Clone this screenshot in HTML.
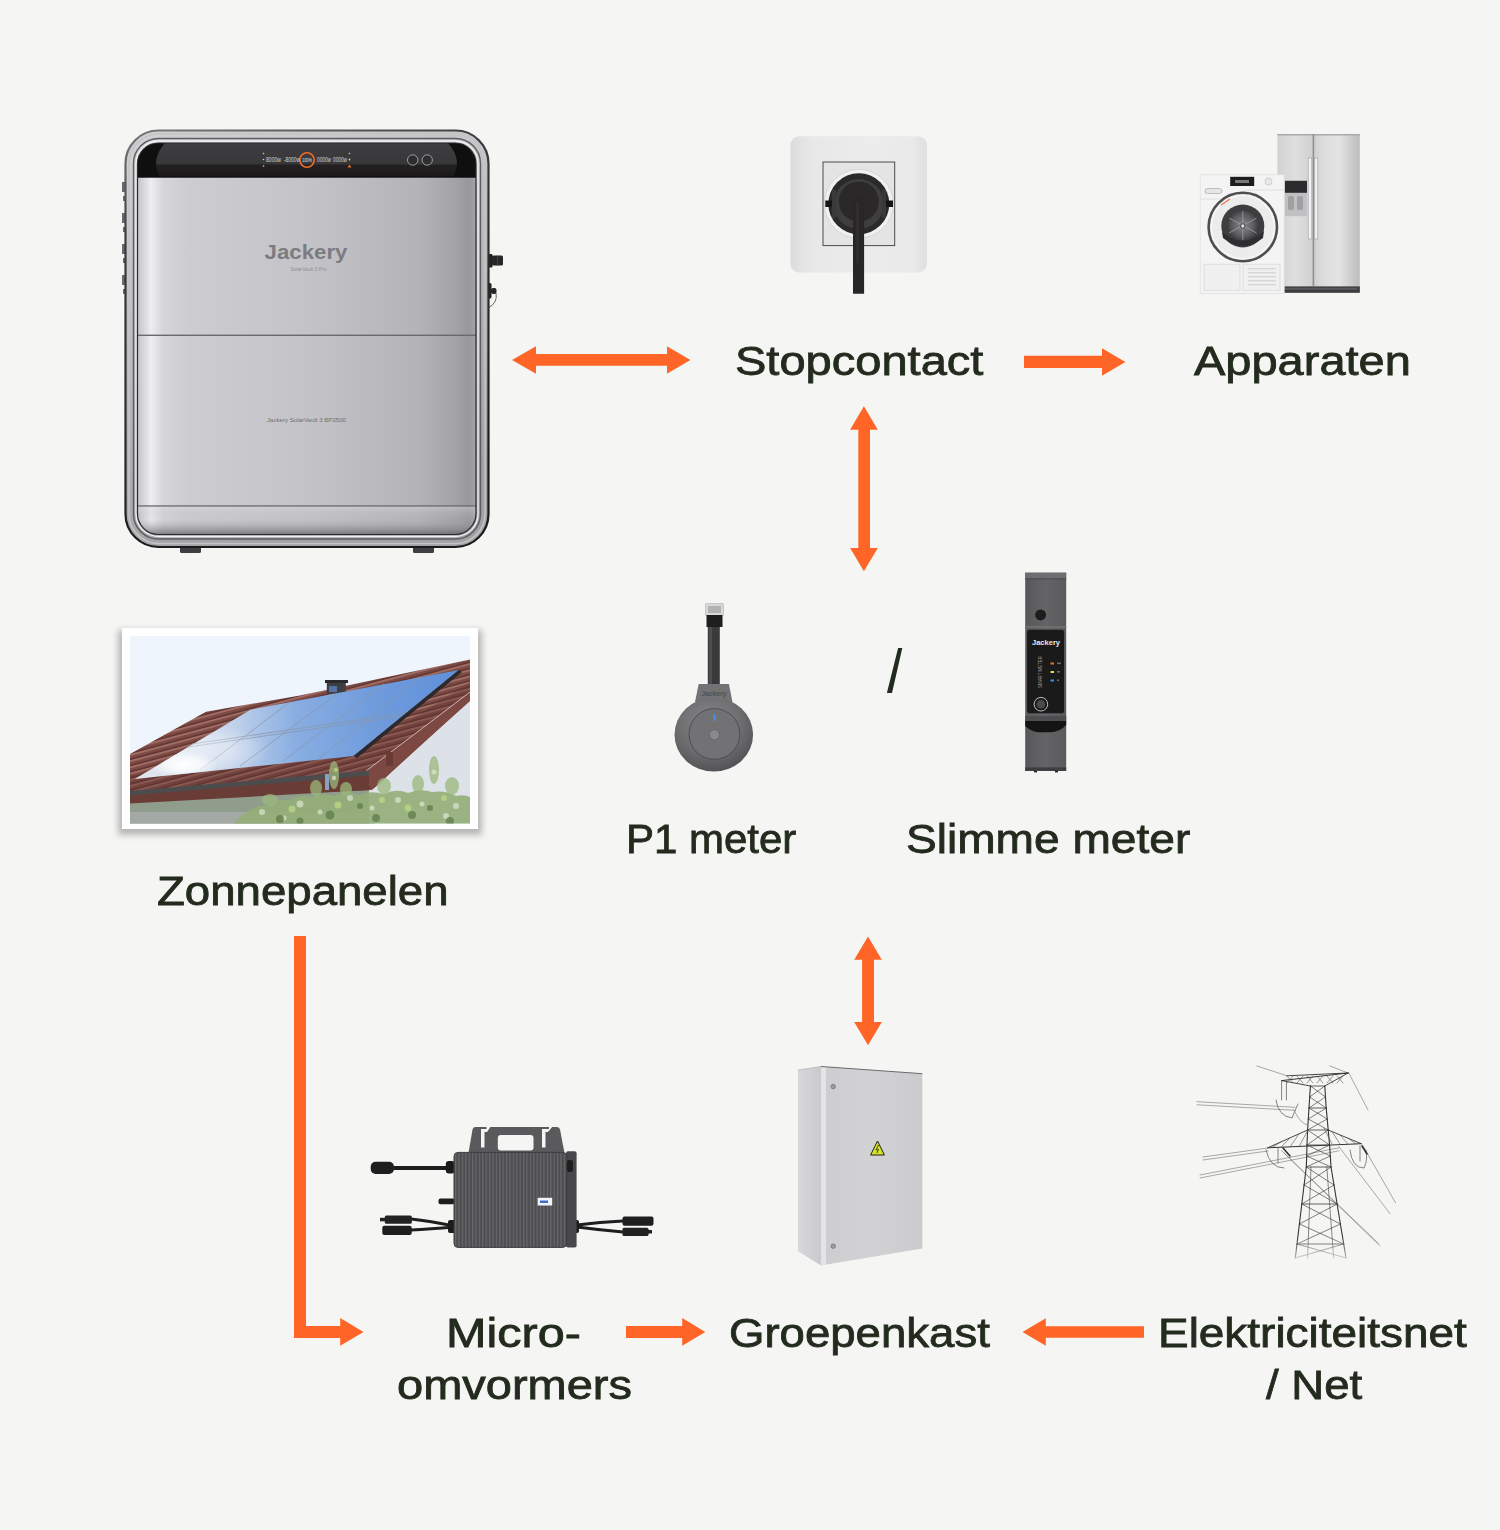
<!DOCTYPE html>
<html>
<head>
<meta charset="utf-8">
<style>
html,body{margin:0;padding:0;background:#f5f5f3;}
body{width:1500px;height:1530px;background:#f5f5f3;position:relative;overflow:hidden;font-family:"Liberation Sans",sans-serif;}
.t{position:absolute;white-space:nowrap;font-size:41px;line-height:50px;color:#232b1e;-webkit-text-stroke:0.8px #232b1e;transform-origin:0 0;}
svg{position:absolute;left:0;top:0;}
</style>
</head>
<body>
<svg width="1500" height="1530" viewBox="0 0 1500 1530">

<defs>
  <linearGradient id="bpH" gradientUnits="userSpaceOnUse" x1="137.5" x2="476" y1="0" y2="0">
    <stop offset="0" stop-color="#c4c4c8"/>
    <stop offset="0.04" stop-color="#eeeef0"/>
    <stop offset="0.075" stop-color="#d6d6da"/>
    <stop offset="0.15" stop-color="#cdcdd1"/>
    <stop offset="0.5" stop-color="#c4c4c8"/>
    <stop offset="0.83" stop-color="#b4b4b8"/>
    <stop offset="0.94" stop-color="#a3a3a7"/>
    <stop offset="0.98" stop-color="#98989c"/>
    <stop offset="1" stop-color="#a4a4a8"/>
  </linearGradient>
  <linearGradient id="bpB" x1="0" x2="0" y1="0" y2="1">
    <stop offset="0" stop-color="#dcdcdf" stop-opacity="0.45"/>
    <stop offset="0.45" stop-color="#b0b0b3" stop-opacity="0.1"/>
    <stop offset="1" stop-color="#5a5a5d" stop-opacity="0.75"/>
  </linearGradient>
  <linearGradient id="bDisp" x1="0" x2="0" y1="0" y2="1">
    <stop offset="0" stop-color="#3e3e40"/>
    <stop offset="0.6" stop-color="#38383a"/>
    <stop offset="0.66" stop-color="#222021"/>
    <stop offset="1" stop-color="#1a1818"/>
  </linearGradient>
  <linearGradient id="bFrame" x1="0" x2="0.3" y1="0" y2="1">
    <stop offset="0" stop-color="#d2d2d4"/>
    <stop offset="0.5" stop-color="#bcbcbe"/>
    <stop offset="1" stop-color="#a2a2a4"/>
  </linearGradient>
  <linearGradient id="bStroke" x1="0" x2="0.25" y1="0" y2="1">
    <stop offset="0" stop-color="#7a7a7c"/>
    <stop offset="0.25" stop-color="#3a3a3c"/>
    <stop offset="1" stop-color="#1a1a1c"/>
  </linearGradient>
  <clipPath id="bInner"><rect x="137.5" y="143" width="338.5" height="391.5" rx="21" ry="21"/></clipPath>
</defs>
<g id="battery">
  <!-- left side buttons -->
  <g fill="#6a6a6c">
    <rect x="122" y="182" width="4" height="10"/>
    <rect x="122" y="213" width="4" height="10"/>
    <rect x="122" y="244" width="4" height="10"/>
    <rect x="122" y="275" width="4" height="10"/>
    <rect x="123" y="196" width="3" height="5"/>
    <rect x="123" y="227" width="3" height="5"/>
    <rect x="123" y="258" width="3" height="5"/>
    <rect x="123" y="289" width="3" height="5"/>
  </g>
  <!-- right connectors -->
  <rect x="486.5" y="254" width="6" height="13.5" rx="1" fill="#222"/>
  <rect x="492" y="255.5" width="11" height="10" rx="1.5" fill="#262626"/>
  <rect x="497" y="255.5" width="1" height="10" fill="#444"/>
  <rect x="486.5" y="283" width="5" height="15.5" rx="1.5" fill="#222"/>
  <rect x="491" y="288" width="5.5" height="6" rx="2" fill="#262626"/>
  <path d="M496 293 Q498 303 488 308" stroke="#444" stroke-width="0.8" fill="none"/>
  <rect x="484" y="337" width="2" height="29" rx="1" fill="#2a2a2a"/>
  <!-- feet -->
  <rect x="175" y="543" width="32" height="4" fill="#b8b8ba"/>
  <rect x="180" y="544" width="21" height="9" rx="1.5" fill="#3f3f41"/>
  <rect x="407" y="543" width="32" height="4" fill="#b8b8ba"/>
  <rect x="413" y="544" width="21" height="9" rx="1.5" fill="#3f3f41"/>
  <!-- frame -->
  <rect x="125.5" y="130.5" width="363" height="416.5" rx="33" ry="33" fill="url(#bFrame)" stroke="url(#bStroke)" stroke-width="2.2"/>
  <rect x="129" y="134" width="356" height="409.5" rx="29.5" ry="29.5" fill="none" stroke="#c4c4c6" stroke-width="1.5"/>
  <rect x="133.5" y="138.5" width="347" height="400.5" rx="25" ry="25" fill="none" stroke="#5e5e60" stroke-width="1.4"/>
  <rect x="136" y="141" width="342" height="395.5" rx="22.5" ry="22.5" fill="none" stroke="#f2f2f4" stroke-width="1.3"/>
  <!-- inner -->
  <g clip-path="url(#bInner)">
    <rect x="137.5" y="143" width="338.5" height="392" fill="url(#bpH)"/>
    <rect x="137.5" y="143" width="338.5" height="34" fill="url(#bDisp)"/>
    <path d="M137.5 143 L165 143 Q150 160 160 177 L137.5 177 Z" fill="#0f0f10"/>
    <path d="M476 143 L448 143 Q463 160 453 177 L476 177 Z" fill="#0f0f10"/>
    <rect x="137.5" y="176.5" width="338.5" height="1.2" fill="#0c0c0c"/>
    <rect x="137.5" y="334.6" width="338.5" height="1.4" fill="#6a6a6d"/>
    <rect x="137.5" y="506" width="338.5" height="29" fill="url(#bpB)"/>
    <rect x="137.5" y="505.3" width="338.5" height="1.3" fill="#6a6a6d"/>
  </g>
  <rect x="137.5" y="143" width="338.5" height="391.5" rx="21" ry="21" fill="none" stroke="#2a2a2c" stroke-width="1.2"/>
  <!-- display -->
  <circle cx="307" cy="160" r="7.2" fill="none" stroke="#ee6a2a" stroke-width="1.6"/>
  <text x="307" y="162" font-family="Liberation Sans" font-size="5.5" fill="#e0e0e0" text-anchor="middle" textLength="10" lengthAdjust="spacingAndGlyphs">100%</text>
  <text x="266" y="162.3" font-family="Liberation Sans" font-size="6.5" fill="#d8d8d8" textLength="15" lengthAdjust="spacingAndGlyphs">8000w</text>
  <text x="284" y="162.3" font-family="Liberation Sans" font-size="6.5" fill="#d8d8d8" textLength="16" lengthAdjust="spacingAndGlyphs">-8000w</text>
  <text x="317" y="162.3" font-family="Liberation Sans" font-size="6.5" fill="#d8d8d8" textLength="14" lengthAdjust="spacingAndGlyphs">0000w</text>
  <text x="333" y="162.3" font-family="Liberation Sans" font-size="6.5" fill="#d8d8d8" textLength="14" lengthAdjust="spacingAndGlyphs">0000w</text>
  <circle cx="263.5" cy="153.5" r="0.8" fill="#ccc"/><circle cx="263.5" cy="159.5" r="0.8" fill="#ccc"/><circle cx="263.5" cy="166" r="0.8" fill="#ccc"/>
  <circle cx="349.5" cy="153.5" r="0.8" fill="#ccc"/><circle cx="349.5" cy="159.5" r="0.9" fill="#ccc"/>
  <polygon points="349.5,164.5 351.5,167.5 347.5,167.5" fill="#ee6a2a"/>
  <circle cx="412.7" cy="160" r="5.2" fill="#2e2e30" stroke="#a8a8aa" stroke-width="0.9"/>
  <circle cx="427.2" cy="160" r="5.2" fill="#2e2e30" stroke="#a8a8aa" stroke-width="0.9"/>
  <!-- logo -->
  <text x="306" y="258.5" font-family="Liberation Sans" font-weight="bold" font-size="19.5" fill="#7c7c80" text-anchor="middle" textLength="83" lengthAdjust="spacingAndGlyphs">Jackery</text>
  <text x="308.5" y="270.5" font-family="Liberation Sans" font-size="5" fill="#8e8e92" text-anchor="middle">SolarVault 3 Pro</text>
  <text x="306.5" y="421.8" font-family="Liberation Sans" font-size="6.2" fill="#6e6e72" text-anchor="middle" textLength="79" lengthAdjust="spacingAndGlyphs">Jackery SolarVault 3 BP2500</text>
</g>


<defs>
  <linearGradient id="sockPlate" x1="0" x2="1" y1="0" y2="0">
    <stop offset="0" stop-color="#dcdcdd"/>
    <stop offset="0.15" stop-color="#e8e8e9"/>
    <stop offset="0.6" stop-color="#ececed"/>
    <stop offset="0.9" stop-color="#e9e9ea"/>
    <stop offset="1" stop-color="#dfdfe0"/>
  </linearGradient>
  <linearGradient id="fridgeR" x1="0" x2="1" y1="0" y2="0">
    <stop offset="0" stop-color="#cfcfd0"/>
    <stop offset="0.2" stop-color="#dcdcdd"/>
    <stop offset="0.55" stop-color="#e4e4e5"/>
    <stop offset="0.85" stop-color="#c9c9ca"/>
    <stop offset="1" stop-color="#bdbdbe"/>
  </linearGradient>
  <linearGradient id="fridgeL" x1="0" x2="1" y1="0" y2="0">
    <stop offset="0" stop-color="#d2d2d3"/>
    <stop offset="0.5" stop-color="#dedfe0"/>
    <stop offset="1" stop-color="#d0d0d1"/>
  </linearGradient>
  <radialGradient id="drum" cx="0.5" cy="0.5" r="0.5">
    <stop offset="0" stop-color="#8a8a8c"/>
    <stop offset="0.7" stop-color="#5a5a5c"/>
    <stop offset="1" stop-color="#3a3a3c"/>
  </radialGradient>
</defs>
<g id="socket">
  <rect x="790.4" y="136.2" width="136.6" height="136.4" rx="9" fill="url(#sockPlate)"/>
  <rect x="823" y="162" width="71.7" height="83.6" fill="#e4e4e5" stroke="#4a4a4c" stroke-width="1"/>
  <circle cx="858.8" cy="203.8" r="34.5" fill="#f0f0f0" stroke="#cfcfcf" stroke-width="0.8"/>
  <circle cx="858.8" cy="203.8" r="30.5" fill="#2b2929"/>
  <circle cx="858.8" cy="204" r="25" fill="#3f3e3e"/>
  <rect x="825.3" y="200.5" width="7" height="6.5" fill="#151515"/>
  <rect x="886" y="200.5" width="7" height="6.5" fill="#151515"/>
  <rect x="832" y="190" width="4" height="28" fill="#3a3939"/>
  <rect x="882" y="190" width="4" height="28" fill="#3a3939"/>
  <circle cx="858.8" cy="201.5" r="20" fill="#2a2828"/>
  <path d="M853 293.8 L853 206 Q853 196 858.5 196 Q864.1 196 864.1 206 L864.1 293.8 Z" fill="#282626"/>
  <rect x="856.5" y="203" width="2" height="60" fill="#3a3838" opacity="0.7"/>
</g>
<g id="appliances">
  <!-- fridge -->
  <rect x="1277.4" y="134" width="36" height="158.8" fill="url(#fridgeL)"/>
  <rect x="1313.4" y="134" width="46.4" height="158.8" fill="url(#fridgeR)"/>
  <rect x="1277.4" y="134" width="82.4" height="1.5" fill="#aaaaab"/>
  <rect x="1312.6" y="134" width="1.6" height="152" fill="#8e8e90"/>
  <rect x="1277.4" y="286.4" width="82.4" height="6.4" fill="#3e3e40"/>
  <rect x="1280" y="287.8" width="77" height="2" fill="#5a5a5c"/>
  <rect x="1308.2" y="158" width="3.6" height="81" fill="#f2f2f3" stroke="#9c9c9e" stroke-width="0.6"/>
  <rect x="1314.4" y="158" width="3.4" height="81" fill="#f0f0f1" stroke="#9c9c9e" stroke-width="0.6"/>
  <rect x="1284.8" y="180.8" width="22.2" height="35.4" fill="#c0c0c2"/>
  <rect x="1284.8" y="180.8" width="22.2" height="12" fill="#2c2c2e"/>
  <rect x="1288" y="196" width="6" height="14" rx="2" fill="#a0a0a2"/>
  <rect x="1297" y="196" width="6" height="14" rx="2" fill="#a0a0a2"/>
  <!-- washer -->
  <rect x="1200.2" y="174.8" width="84" height="118.8" fill="#f4f4f4"/>
  <rect x="1200.2" y="174.8" width="84" height="118.8" fill="none" stroke="#e0e0e0" stroke-width="0.8"/>
  <rect x="1230.2" y="176.8" width="24" height="9.2" fill="#1c1c1e"/>
  <rect x="1235" y="180" width="14" height="3" fill="#777"/>
  <circle cx="1268.5" cy="181.5" r="3.5" fill="#e8e8e8" stroke="#bbb" stroke-width="0.6"/>
  <rect x="1205" y="188.5" width="17" height="5" rx="2.5" fill="#e6e6e6" stroke="#b0b0b0" stroke-width="0.8"/>
  <path d="M1200.2 199 L1228 199 Q1236 192 1250 190 L1284.2 190" fill="none" stroke="#dcdcdc" stroke-width="0.8"/>
  <circle cx="1242.8" cy="227" r="34.2" fill="#ececec" stroke="#4e4e50" stroke-width="2.6"/>
  <circle cx="1242.8" cy="227" r="31.5" fill="none" stroke="#f8f8f8" stroke-width="1.2"/>
  <circle cx="1242.8" cy="226" r="21.5" fill="#3e3e40"/>
  <circle cx="1242.8" cy="225.5" r="16" fill="url(#drum)"/>
  <g stroke="#a8a8aa" stroke-width="0.7">
    <line x1="1242.8" y1="211" x2="1242.8" y2="240"/>
    <line x1="1229" y1="218" x2="1256.6" y2="233"/>
    <line x1="1229" y1="233" x2="1256.6" y2="218"/>
  </g>
  <circle cx="1242.8" cy="226" r="2.2" fill="#ddd" stroke="#222" stroke-width="0.8"/>
  <path d="M1222 232 Q1242.8 250 1264 231 L1263 238 Q1242.8 254 1223 238 Z" fill="#2e2e30"/>
  <path d="M1221 205 L1230 199" stroke="#e87040" stroke-width="1.2"/>
  <rect x="1204" y="264.2" width="36" height="26.4" fill="#f0f0f0" stroke="#dadada" stroke-width="0.8"/>
  <rect x="1243" y="264.2" width="37" height="26.4" fill="#f0f0f0" stroke="#dadada" stroke-width="0.8"/>
  <g fill="#d6d6d6">
    <rect x="1248" y="268" width="28" height="1.4"/>
    <rect x="1248" y="272" width="28" height="1.4"/>
    <rect x="1248" y="276" width="28" height="1.4"/>
    <rect x="1248" y="280" width="28" height="1.4"/>
    <rect x="1248" y="284" width="28" height="1.4"/>
  </g>
</g>


<defs>
  <filter id="shadowF" x="-10%" y="-10%" width="120%" height="130%">
    <feGaussianBlur stdDeviation="3"/>
  </filter>
  <clipPath id="panelClip"><polygon points="134.8,779 250.5,709.7 458.8,669.9 353.6,756.1"/></clipPath>
  <clipPath id="photoClip"><rect x="130" y="636" width="340" height="187.5"/></clipPath>
  <linearGradient id="panelG" x1="0" y1="0" x2="1" y2="0">
    <stop offset="0" stop-color="#e4e9f0"/>
    <stop offset="0.3" stop-color="#c2d2ea"/>
    <stop offset="0.5" stop-color="#88ade2"/>
    <stop offset="0.75" stop-color="#6f9bdc"/>
    <stop offset="1" stop-color="#5f90da"/>
  </linearGradient>
  <pattern id="tiles" width="12" height="6" patternUnits="userSpaceOnUse" patternTransform="rotate(-15)">
    <rect width="12" height="6" fill="#7e4a44"/>
    <rect y="0" width="12" height="1.8" fill="#a27068"/>
    <rect y="4.5" width="12" height="1.5" fill="#5e3430"/>
  </pattern>
  <radialGradient id="glare" cx="0.5" cy="0.5" r="0.5">
    <stop offset="0" stop-color="#ffffff" stop-opacity="1"/>
    <stop offset="0.5" stop-color="#ffffff" stop-opacity="0.7"/>
    <stop offset="1" stop-color="#ffffff" stop-opacity="0"/>
  </radialGradient>
</defs>
<g id="photo">
  <rect x="118" y="630" width="364" height="205" fill="#7a7a7a" opacity="0.5" filter="url(#shadowF)"/>
  <rect x="122" y="628" width="356" height="201" fill="#ffffff"/>
  <g clip-path="url(#photoClip)">
    <rect x="130" y="636" width="340" height="188" fill="#eef5fd"/>
    <!-- left lower wall -->
    <rect x="130" y="775" width="245" height="49" fill="#909c8c"/>
    <rect x="130" y="812" width="245" height="12" fill="#a3aaa6"/>
    <!-- right wall -->
    <polygon points="369,790 470,700 470,824 369,824" fill="#dde2e9"/>
    <!-- roof -->
    <polygon points="130,754 206,711.7 300,695.4 470,659.4 470,700 372,790 130,800" fill="url(#tiles)"/>
    <polygon points="130,775 360,752 470,682 470,700 372,790 130,800" fill="#5e3430" opacity="0.35"/>
    <!-- verge board -->
    <polygon points="366,771 470,692 470,701 371,790" fill="#7e4842"/>
    <line x1="366" y1="771" x2="470" y2="692" stroke="#cdb8b4" stroke-width="1"/>
    <rect x="386" y="752" width="7" height="14" fill="#6a3a34"/>
    <!-- fascia & gutter -->
    <polygon points="130,795 369,775 369,790 130,803.5" fill="#6a3c36"/>
    <polygon points="130,791 369,770.5 369,775.5 130,795.5" fill="#4c4c4e"/>
    <rect x="325" y="774" width="4" height="16" fill="#8aa0c0"/>
    <!-- chimney -->
    <rect x="326.8" y="681.6" width="19" height="12" fill="#3e3e40"/>
    <rect x="325" y="680" width="23" height="3" fill="#2a2a2c"/>
    <rect x="329" y="686" width="8" height="6" fill="#5a8ad0" opacity="0.7"/>
    <!-- panels -->
    <polygon points="134.8,779 250.5,709.7 458.8,669.9 353.6,756.1" fill="url(#panelG)"/>
    <polygon points="353.6,756.1 458.8,669.9 462,672 357,758" fill="#2a2a2e"/>
    <g stroke="#8a98ac" stroke-width="0.9" fill="none" opacity="0.9">
      <line x1="192" y1="744" x2="405" y2="713"/>
      <line x1="188" y1="747" x2="400" y2="716.5"/>
      <line x1="200" y1="770" x2="290" y2="702"/>
      <line x1="240" y1="766" x2="338" y2="693"/>
      <line x1="283" y1="761" x2="384" y2="684"/>
      <line x1="320" y1="758" x2="420" y2="677"/>
    </g>
    <g clip-path="url(#panelClip)">
    <ellipse cx="184" cy="765" rx="34" ry="14" fill="url(#glare)"/>
    <ellipse cx="200" cy="750" rx="70" ry="26" fill="url(#glare)" opacity="0.5"/>
    </g>
    <!-- bushes -->
    <path d="M234 824 Q238 816 248 812 Q256 804 268 806 Q278 798 290 800 Q300 794 312 797 Q322 792 334 796 Q346 790 358 795 Q370 790 384 794 Q396 788 408 793 Q420 788 432 792 Q446 790 456 796 Q464 794 470 797 L470 824 Z" fill="#94ae78" opacity="0.9"/>
    <g fill="#9bb87c" opacity="0.75">
      <ellipse cx="334" cy="775" rx="5" ry="14"/>
      <ellipse cx="316" cy="788" rx="6" ry="8"/>
      <ellipse cx="346" cy="789" rx="6" ry="7"/>
      <ellipse cx="384" cy="786" rx="7" ry="8"/>
      <ellipse cx="418" cy="784" rx="6" ry="9"/>
      <ellipse cx="434" cy="770" rx="5" ry="14"/>
      <ellipse cx="452" cy="786" rx="7" ry="9"/>
      <ellipse cx="270" cy="800" rx="8" ry="6"/>
    </g>
    <g fill="#e2ead6" opacity="0.65">
      <circle cx="262" cy="812" r="3"/><circle cx="300" cy="804" r="3.5"/><circle cx="334" cy="778" r="2.2"/>
      <circle cx="350" cy="798" r="3"/><circle cx="398" cy="800" r="3"/><circle cx="434" cy="772" r="2.5"/>
      <circle cx="422" cy="804" r="2.5"/><circle cx="456" cy="806" r="3"/><circle cx="284" cy="818" r="2.5"/>
      <circle cx="372" cy="808" r="2.5"/><circle cx="320" cy="812" r="2.5"/><circle cx="446" cy="816" r="3"/>
    </g>
    <g fill="#5a7845" opacity="0.7">
      <circle cx="280" cy="819" r="4"/><circle cx="330" cy="815" r="4.5"/><circle cx="376" cy="818" r="4"/>
      <circle cx="412" cy="815" r="4"/><circle cx="450" cy="821" r="4"/><circle cx="360" cy="806" r="3"/>
      <circle cx="300" cy="821" r="3.5"/><circle cx="430" cy="808" r="3"/>
    </g>
    <g fill="#b7d684" opacity="0.85">
      <circle cx="292" cy="809" r="3.5"/><circle cx="338" cy="805" r="3.5"/><circle cx="382" cy="800" r="3"/>
      <circle cx="408" cy="808" r="3.5"/><circle cx="444" cy="798" r="3"/><circle cx="336" cy="770" r="2"/>
    </g>
  </g>
</g>
<defs>
  <radialGradient id="p1disc" cx="0.45" cy="0.35" r="0.7">
    <stop offset="0" stop-color="#8a8a8c"/>
    <stop offset="0.6" stop-color="#6c6c6e"/>
    <stop offset="1" stop-color="#4e4e50"/>
  </radialGradient>
  <linearGradient id="smBody" x1="0" x2="1" y1="0" y2="0">
    <stop offset="0" stop-color="#58585a"/>
    <stop offset="0.5" stop-color="#646466"/>
    <stop offset="1" stop-color="#5a5a5c"/>
  </linearGradient>
</defs>
<g id="p1meter">
  <rect x="705.5" y="603.5" width="18" height="12" rx="1" fill="#d8d8d8" stroke="#b0b0b0" stroke-width="0.6"/>
  <rect x="708" y="606" width="13" height="7" fill="#9a9a9a" opacity="0.6"/>
  <rect x="706.5" y="615" width="16" height="12" fill="#1e1e1e"/>
  <rect x="707.8" y="627" width="12" height="58" fill="#3a3a3c"/>
  <rect x="709" y="627" width="3" height="58" fill="#4e4e50"/>
  <polygon points="698.7,684 728.9,684 732.5,702 695,702" fill="#737375"/>
  <text x="714" y="696" font-family="Liberation Sans" font-size="6.5" font-weight="bold" fill="#505052" text-anchor="middle" textLength="25" lengthAdjust="spacingAndGlyphs">Jackery</text>
  <ellipse cx="713.8" cy="734.6" rx="39.3" ry="37" fill="url(#p1disc)"/>
  <circle cx="714.4" cy="734" r="25.4" fill="#727274" stroke="#4a4a4c" stroke-width="0.9"/>
  <circle cx="714.4" cy="734.7" r="5" fill="#8a8a8c" stroke="#5a5a5c" stroke-width="0.6"/>
  <rect x="713.2" y="714" width="2.4" height="7" rx="1" fill="#4a8ee0"/>
</g>
<g id="smartmeter">
  <rect x="1025.2" y="572.7" width="41" height="198.2" fill="url(#smBody)"/>
  <rect x="1025.2" y="572.7" width="41" height="5.7" fill="#6e6e70"/>
  <rect x="1025.2" y="578.4" width="41" height="1" fill="#4a4a4c"/>
  <circle cx="1040.6" cy="614.9" r="5.5" fill="#1e1c1c"/>
  <rect x="1025.2" y="626" width="41" height="2" fill="#6e6e70"/>
  <rect x="1027.1" y="629.7" width="37" height="83.6" rx="2.5" fill="#1a1a1b"/>
  <text x="1046" y="645.2" font-family="Liberation Sans" font-size="8" font-weight="bold" fill="#e8e8e8" text-anchor="middle" textLength="28" lengthAdjust="spacingAndGlyphs">Jackery</text>
  <text transform="translate(1042,688) rotate(-90)" font-family="Liberation Sans" font-size="4.5" fill="#9a9a9a" textLength="32" lengthAdjust="spacingAndGlyphs">SMART METER</text>
  <rect x="1050.5" y="662.5" width="3.5" height="2" fill="#f06a30"/>
  <rect x="1050.5" y="671" width="3.5" height="2" fill="#d8e040"/>
  <rect x="1050.5" y="679.5" width="3.5" height="2" fill="#3a8ee8"/>
  <rect x="1057" y="662.5" width="4" height="1.6" fill="#6a6a6a"/>
  <rect x="1057" y="671" width="3" height="1.6" fill="#6a6a6a"/>
  <rect x="1057" y="679.5" width="2" height="1.6" fill="#6a6a6a"/>
  <circle cx="1040.9" cy="704.2" r="6.8" fill="none" stroke="#cfcfcf" stroke-width="0.9"/>
  <circle cx="1040.9" cy="704.2" r="4.3" fill="#4a4a4c"/>
  <rect x="1025.2" y="716" width="41" height="5" fill="#4e4e50"/>
  <path d="M1025.2 721 L1066.2 721 L1066.2 725 Q1060 732 1050 732.3 L1038 732.3 Q1030 731 1025.2 726 Z" fill="#141414"/>
  <rect x="1025.2" y="767.4" width="41" height="3.5" fill="#3e3e40"/>
  <rect x="1034" y="770.9" width="3" height="1.5" fill="#222"/>
  <rect x="1055" y="770.9" width="3" height="1.5" fill="#222"/>
</g>


<defs>
  <pattern id="ribs" width="3.4" height="10" patternUnits="userSpaceOnUse" x="455" y="0">
    <rect width="3.4" height="10" fill="#545456"/>
    <rect x="0" width="1" height="10" fill="#6a6a6c"/>
    <rect x="2.2" width="0.8" height="10" fill="#464648"/>
  </pattern>
  <linearGradient id="cabFront" x1="0" x2="1" y1="0" y2="0">
    <stop offset="0" stop-color="#cdcdcf"/>
    <stop offset="0.5" stop-color="#d2d2d4"/>
    <stop offset="1" stop-color="#cbcbcd"/>
  </linearGradient>
  <linearGradient id="cabSide" x1="0" x2="1" y1="0" y2="0">
    <stop offset="0" stop-color="#d8d8da"/>
    <stop offset="1" stop-color="#cacacc"/>
  </linearGradient>
  <linearGradient id="towerFade" x1="0" x2="0" y1="0" y2="1">
    <stop offset="0.85" stop-color="#fff" stop-opacity="1"/>
    <stop offset="1" stop-color="#fff" stop-opacity="0"/>
  </linearGradient>
  <mask id="towerMask"><rect x="1180" y="1050" width="230" height="220" fill="url(#towerFade)"/></mask>
</defs>
<g id="micro">
  <!-- bracket -->
  <path d="M475 1127 L557 1127 Q559.5 1127 560 1129.5 L564.5 1153 L468.5 1153 L472.5 1129.5 Q473 1127 475 1127 Z" fill="#5a5a5c"/>
  <rect x="497.8" y="1135" width="35.7" height="15.5" rx="3" fill="#f5f5f3"/>
  <path d="M486.5 1126 L491 1126 L487 1132 L484.5 1132 L484.5 1147.5 L481 1147.5 L481 1129 L486.5 1129 Z" fill="#f5f5f3"/>
  <path d="M549 1126 L553 1126 L548 1132 L545.5 1132 L545.5 1147.5 L542 1147.5 L542 1129 L549 1129 Z" fill="#f5f5f3"/>
  <!-- AC cable -->
  <rect x="370.7" y="1161.7" width="23.3" height="12.3" rx="5" fill="#1e1e1e"/>
  <rect x="394" y="1166" width="54" height="4" fill="#1e1e1e"/>
  <rect x="445.8" y="1161" width="9" height="12.5" rx="3" fill="#1a1a1a"/>
  <!-- stub -->
  <rect x="438.5" y="1198.4" width="16" height="5.8" rx="2" fill="#1e1e1e"/>
  <!-- DC left -->
  <path d="M411 1219 Q430 1221 454 1226" stroke="#1e1e1e" stroke-width="3" fill="none"/>
  <path d="M411 1230 Q430 1229 454 1227" stroke="#1e1e1e" stroke-width="3" fill="none"/>
  <rect x="384.8" y="1215.4" width="27" height="8.3" rx="1.5" fill="#222"/>
  <rect x="380" y="1217.8" width="6" height="3.5" fill="#222"/>
  <rect x="382.3" y="1225.7" width="29.4" height="9.3" rx="2" fill="#1e1e1e"/>
  <rect x="448" y="1220" width="8" height="13" rx="2" fill="#1a1a1a"/>
  <!-- DC right -->
  <path d="M577 1225 Q600 1222 623 1221" stroke="#1e1e1e" stroke-width="3" fill="none"/>
  <path d="M577 1227 Q600 1230 623 1232" stroke="#1e1e1e" stroke-width="3" fill="none"/>
  <rect x="622.5" y="1216.4" width="31" height="9.3" rx="2" fill="#1e1e1e"/>
  <rect x="622.5" y="1227.8" width="26" height="8.2" rx="1.5" fill="#222"/>
  <rect x="647" y="1230" width="5" height="3.5" fill="#222"/>
  <rect x="571" y="1220" width="8" height="13" rx="2" fill="#1a1a1a"/>
  <!-- body -->
  <rect x="566" y="1151.3" width="10.6" height="96.1" rx="2" fill="#48484a"/>
  <rect x="454" y="1152.4" width="112.7" height="95" rx="4" fill="url(#ribs)"/>
  <rect x="454" y="1152.4" width="112.7" height="95" rx="4" fill="none" stroke="#3e3e40" stroke-width="1"/>
  <rect x="567" y="1160" width="6" height="12" rx="2" fill="#1e1e1e"/>
  <rect x="537.7" y="1197.8" width="14.5" height="7.7" fill="#f2f4f8"/>
  <rect x="540" y="1200.5" width="8" height="2.5" fill="#3a6ec8"/>
</g>
<g id="cabinet">
  <polygon points="798,1070.1 821,1066.5 821,1265.6 798,1251.2" fill="url(#cabSide)"/>
  <polygon points="821,1066.5 922.3,1073.7 922.3,1248.4 821,1265.6" fill="url(#cabFront)"/>
  <polygon points="821,1066.5 826,1066.8 826,1264.8 821,1265.6" fill="#e4e4e6"/>
  <line x1="821" y1="1066.5" x2="922.3" y2="1073.7" stroke="#6a6a6c" stroke-width="1"/>
  <line x1="798" y1="1070.1" x2="821" y2="1066.5" stroke="#b8b8ba" stroke-width="0.8"/>
  <circle cx="833.2" cy="1086.6" r="2.3" fill="#9a9a9c" stroke="#6a6a6c" stroke-width="0.6"/>
  <circle cx="833.2" cy="1246.2" r="2.3" fill="#9a9a9c" stroke="#6a6a6c" stroke-width="0.6"/>
  <polygon points="877.5,1141 884.4,1155 870.6,1155" fill="#d6e426" stroke="#1e1e1e" stroke-width="1"/>
  <path d="M878.5 1145 L876 1150 L878.5 1149.5 L876.8 1153" stroke="#1e1e1e" stroke-width="0.8" fill="none"/>
</g>
<g id="tower" mask="url(#towerMask)" fill="none" stroke-linecap="round">
<line x1="1197.0" y1="1101.7" x2="1295.0" y2="1107.3" stroke="#7a7a7a" stroke-width="0.8" opacity="0.8"/>
<line x1="1197.0" y1="1104.8" x2="1295.0" y2="1110.3" stroke="#7a7a7a" stroke-width="0.8" opacity="0.8"/>
<line x1="1203.0" y1="1157.0" x2="1268.0" y2="1148.0" stroke="#7a7a7a" stroke-width="0.8" opacity="0.8"/>
<line x1="1203.0" y1="1160.0" x2="1268.0" y2="1151.0" stroke="#7a7a7a" stroke-width="0.8" opacity="0.8"/>
<line x1="1200.0" y1="1175.0" x2="1339.0" y2="1147.8" stroke="#7a7a7a" stroke-width="0.8" opacity="0.8"/>
<line x1="1200.0" y1="1178.0" x2="1339.0" y2="1150.8" stroke="#7a7a7a" stroke-width="0.8" opacity="0.8"/>
<line x1="1257.0" y1="1066.0" x2="1287.0" y2="1075.8" stroke="#7a7a7a" stroke-width="0.8" opacity="0.8"/>
<line x1="1330.0" y1="1066.0" x2="1348.0" y2="1073.0" stroke="#7a7a7a" stroke-width="0.8" opacity="0.8"/>
<line x1="1348.8" y1="1073.0" x2="1368.0" y2="1110.0" stroke="#7a7a7a" stroke-width="0.8" opacity="0.8"/>
<line x1="1362.5" y1="1145.0" x2="1395.5" y2="1202.7" stroke="#7a7a7a" stroke-width="0.8" opacity="0.8"/>
<line x1="1339.2" y1="1147.0" x2="1390.0" y2="1213.7" stroke="#7a7a7a" stroke-width="0.8" opacity="0.8"/>
<line x1="1281.6" y1="1150.6" x2="1379.0" y2="1243.9" stroke="#7a7a7a" stroke-width="0.8" opacity="0.8"/>
<line x1="1284.0" y1="1153.0" x2="1380.0" y2="1246.0" stroke="#7a7a7a" stroke-width="0.8" opacity="0.8"/>
<line x1="1310.4" y1="1086.0" x2="1309.7" y2="1097.0" stroke="#333" stroke-width="1.1" opacity="1"/>
<line x1="1309.7" y1="1097.0" x2="1309.0" y2="1108.0" stroke="#333" stroke-width="1.1" opacity="1"/>
<line x1="1309.0" y1="1108.0" x2="1308.3" y2="1119.0" stroke="#333" stroke-width="1.1" opacity="1"/>
<line x1="1308.3" y1="1119.0" x2="1307.6" y2="1130.0" stroke="#333" stroke-width="1.1" opacity="1"/>
<line x1="1307.6" y1="1130.0" x2="1307.0" y2="1145.0" stroke="#333" stroke-width="1.1" opacity="1"/>
<line x1="1307.0" y1="1145.0" x2="1306.7" y2="1156.0" stroke="#333" stroke-width="1.1" opacity="1"/>
<line x1="1306.7" y1="1156.0" x2="1306.3" y2="1167.0" stroke="#333" stroke-width="1.1" opacity="1"/>
<line x1="1306.3" y1="1167.0" x2="1304.1" y2="1185.0" stroke="#333" stroke-width="1.1" opacity="1"/>
<line x1="1304.1" y1="1185.0" x2="1301.8" y2="1204.0" stroke="#333" stroke-width="1.1" opacity="1"/>
<line x1="1301.8" y1="1204.0" x2="1299.4" y2="1224.0" stroke="#333" stroke-width="1.1" opacity="1"/>
<line x1="1299.4" y1="1224.0" x2="1297.0" y2="1244.0" stroke="#333" stroke-width="1.1" opacity="1"/>
<line x1="1297.0" y1="1244.0" x2="1295.3" y2="1258.0" stroke="#333" stroke-width="1.1" opacity="1"/>
<line x1="1324.8" y1="1086.0" x2="1325.5" y2="1097.0" stroke="#333" stroke-width="1.1" opacity="1"/>
<line x1="1325.5" y1="1097.0" x2="1326.2" y2="1108.0" stroke="#333" stroke-width="1.1" opacity="1"/>
<line x1="1326.2" y1="1108.0" x2="1327.2" y2="1119.0" stroke="#333" stroke-width="1.1" opacity="1"/>
<line x1="1327.2" y1="1119.0" x2="1328.2" y2="1130.0" stroke="#333" stroke-width="1.1" opacity="1"/>
<line x1="1328.2" y1="1130.0" x2="1329.6" y2="1145.0" stroke="#333" stroke-width="1.1" opacity="1"/>
<line x1="1329.6" y1="1145.0" x2="1330.3" y2="1156.0" stroke="#333" stroke-width="1.1" opacity="1"/>
<line x1="1330.3" y1="1156.0" x2="1331.0" y2="1167.0" stroke="#333" stroke-width="1.1" opacity="1"/>
<line x1="1331.0" y1="1167.0" x2="1334.0" y2="1185.0" stroke="#333" stroke-width="1.1" opacity="1"/>
<line x1="1334.0" y1="1185.0" x2="1337.1" y2="1204.0" stroke="#333" stroke-width="1.1" opacity="1"/>
<line x1="1337.1" y1="1204.0" x2="1340.4" y2="1224.0" stroke="#333" stroke-width="1.1" opacity="1"/>
<line x1="1340.4" y1="1224.0" x2="1343.7" y2="1244.0" stroke="#333" stroke-width="1.1" opacity="1"/>
<line x1="1343.7" y1="1244.0" x2="1346.0" y2="1258.0" stroke="#333" stroke-width="1.1" opacity="1"/>
<line x1="1311.0" y1="1167.0" x2="1307.6" y2="1258.0" stroke="#555" stroke-width="0.7" opacity="1"/>
<line x1="1326.8" y1="1167.0" x2="1333.7" y2="1258.0" stroke="#555" stroke-width="0.7" opacity="1"/>
<line x1="1310.4" y1="1086.0" x2="1325.5" y2="1097.0" stroke="#3e3e3e" stroke-width="0.65" opacity="1"/>
<line x1="1324.8" y1="1086.0" x2="1309.7" y2="1097.0" stroke="#3e3e3e" stroke-width="0.65" opacity="1"/>
<line x1="1309.7" y1="1097.0" x2="1326.2" y2="1108.0" stroke="#3e3e3e" stroke-width="0.65" opacity="1"/>
<line x1="1325.5" y1="1097.0" x2="1309.0" y2="1108.0" stroke="#3e3e3e" stroke-width="0.65" opacity="1"/>
<line x1="1309.0" y1="1108.0" x2="1327.2" y2="1119.0" stroke="#3e3e3e" stroke-width="0.65" opacity="1"/>
<line x1="1326.2" y1="1108.0" x2="1308.3" y2="1119.0" stroke="#3e3e3e" stroke-width="0.65" opacity="1"/>
<line x1="1308.3" y1="1119.0" x2="1328.2" y2="1130.0" stroke="#3e3e3e" stroke-width="0.65" opacity="1"/>
<line x1="1327.2" y1="1119.0" x2="1307.6" y2="1130.0" stroke="#3e3e3e" stroke-width="0.65" opacity="1"/>
<line x1="1307.6" y1="1130.0" x2="1329.6" y2="1145.0" stroke="#3e3e3e" stroke-width="0.65" opacity="1"/>
<line x1="1328.2" y1="1130.0" x2="1307.0" y2="1145.0" stroke="#3e3e3e" stroke-width="0.65" opacity="1"/>
<line x1="1307.0" y1="1145.0" x2="1330.3" y2="1156.0" stroke="#3e3e3e" stroke-width="0.65" opacity="1"/>
<line x1="1329.6" y1="1145.0" x2="1306.7" y2="1156.0" stroke="#3e3e3e" stroke-width="0.65" opacity="1"/>
<line x1="1306.7" y1="1156.0" x2="1331.0" y2="1167.0" stroke="#3e3e3e" stroke-width="0.65" opacity="1"/>
<line x1="1330.3" y1="1156.0" x2="1306.3" y2="1167.0" stroke="#3e3e3e" stroke-width="0.65" opacity="1"/>
<line x1="1306.3" y1="1167.0" x2="1334.0" y2="1185.0" stroke="#3e3e3e" stroke-width="0.65" opacity="1"/>
<line x1="1331.0" y1="1167.0" x2="1304.1" y2="1185.0" stroke="#3e3e3e" stroke-width="0.65" opacity="1"/>
<line x1="1304.1" y1="1185.0" x2="1337.1" y2="1204.0" stroke="#3e3e3e" stroke-width="0.65" opacity="1"/>
<line x1="1334.0" y1="1185.0" x2="1301.8" y2="1204.0" stroke="#3e3e3e" stroke-width="0.65" opacity="1"/>
<line x1="1301.8" y1="1204.0" x2="1340.4" y2="1224.0" stroke="#3e3e3e" stroke-width="0.65" opacity="1"/>
<line x1="1337.1" y1="1204.0" x2="1299.4" y2="1224.0" stroke="#3e3e3e" stroke-width="0.65" opacity="1"/>
<line x1="1299.4" y1="1224.0" x2="1343.7" y2="1244.0" stroke="#3e3e3e" stroke-width="0.65" opacity="1"/>
<line x1="1340.4" y1="1224.0" x2="1297.0" y2="1244.0" stroke="#3e3e3e" stroke-width="0.65" opacity="1"/>
<line x1="1297.0" y1="1244.0" x2="1346.0" y2="1258.0" stroke="#3e3e3e" stroke-width="0.65" opacity="1"/>
<line x1="1343.7" y1="1244.0" x2="1295.3" y2="1258.0" stroke="#3e3e3e" stroke-width="0.65" opacity="1"/>
<line x1="1310.4" y1="1086.0" x2="1324.8" y2="1086.0" stroke="#3a3a3a" stroke-width="0.8" opacity="1"/>
<line x1="1309.0" y1="1108.0" x2="1326.2" y2="1108.0" stroke="#3a3a3a" stroke-width="0.8" opacity="1"/>
<line x1="1307.6" y1="1130.0" x2="1328.2" y2="1130.0" stroke="#3a3a3a" stroke-width="0.8" opacity="1"/>
<line x1="1307.0" y1="1145.0" x2="1329.6" y2="1145.0" stroke="#3a3a3a" stroke-width="0.8" opacity="1"/>
<line x1="1306.3" y1="1167.0" x2="1331.0" y2="1167.0" stroke="#3a3a3a" stroke-width="0.8" opacity="1"/>
<line x1="1301.8" y1="1204.0" x2="1337.1" y2="1204.0" stroke="#3a3a3a" stroke-width="0.8" opacity="1"/>
<line x1="1297.0" y1="1244.0" x2="1343.7" y2="1244.0" stroke="#3a3a3a" stroke-width="0.8" opacity="1"/>
<line x1="1281.6" y1="1080.6" x2="1348.1" y2="1073.0" stroke="#333" stroke-width="1.0" opacity="1"/>
<line x1="1287.0" y1="1075.8" x2="1348.1" y2="1073.0" stroke="#333" stroke-width="0.9" opacity="1"/>
<line x1="1281.6" y1="1080.6" x2="1310.4" y2="1086.0" stroke="#333" stroke-width="0.9" opacity="1"/>
<line x1="1348.1" y1="1073.0" x2="1324.8" y2="1086.0" stroke="#333" stroke-width="0.9" opacity="1"/>
<line x1="1287.0" y1="1076.0" x2="1293.0" y2="1083.0" stroke="#555" stroke-width="0.6" opacity="1"/>
<line x1="1293.0" y1="1076.0" x2="1287.0" y2="1083.0" stroke="#555" stroke-width="0.6" opacity="1"/>
<line x1="1297.0" y1="1076.0" x2="1303.0" y2="1083.0" stroke="#555" stroke-width="0.6" opacity="1"/>
<line x1="1303.0" y1="1076.0" x2="1297.0" y2="1083.0" stroke="#555" stroke-width="0.6" opacity="1"/>
<line x1="1307.0" y1="1076.0" x2="1313.0" y2="1083.0" stroke="#555" stroke-width="0.6" opacity="1"/>
<line x1="1313.0" y1="1076.0" x2="1307.0" y2="1083.0" stroke="#555" stroke-width="0.6" opacity="1"/>
<line x1="1317.0" y1="1076.0" x2="1323.0" y2="1083.0" stroke="#555" stroke-width="0.6" opacity="1"/>
<line x1="1323.0" y1="1076.0" x2="1317.0" y2="1083.0" stroke="#555" stroke-width="0.6" opacity="1"/>
<line x1="1327.0" y1="1076.0" x2="1333.0" y2="1083.0" stroke="#555" stroke-width="0.6" opacity="1"/>
<line x1="1333.0" y1="1076.0" x2="1327.0" y2="1083.0" stroke="#555" stroke-width="0.6" opacity="1"/>
<line x1="1337.0" y1="1076.0" x2="1343.0" y2="1083.0" stroke="#555" stroke-width="0.6" opacity="1"/>
<line x1="1343.0" y1="1076.0" x2="1337.0" y2="1083.0" stroke="#555" stroke-width="0.6" opacity="1"/>
<line x1="1267.8" y1="1147.8" x2="1361.2" y2="1143.7" stroke="#333" stroke-width="1.0" opacity="1"/>
<line x1="1267.8" y1="1147.8" x2="1307.6" y2="1130.0" stroke="#333" stroke-width="0.9" opacity="1"/>
<line x1="1361.2" y1="1143.7" x2="1328.2" y2="1130.0" stroke="#333" stroke-width="0.9" opacity="1"/>
<line x1="1272.0" y1="1147.4" x2="1281.0" y2="1141.9" stroke="#555" stroke-width="0.6" opacity="1"/>
<line x1="1281.0" y1="1147.2" x2="1290.0" y2="1137.9" stroke="#555" stroke-width="0.6" opacity="1"/>
<line x1="1290.0" y1="1147.1" x2="1299.0" y2="1133.8" stroke="#555" stroke-width="0.6" opacity="1"/>
<line x1="1299.0" y1="1146.9" x2="1308.0" y2="1129.8" stroke="#555" stroke-width="0.6" opacity="1"/>
<line x1="1356.0" y1="1144.0" x2="1348.0" y2="1138.2" stroke="#555" stroke-width="0.6" opacity="1"/>
<line x1="1348.0" y1="1144.0" x2="1340.0" y2="1134.9" stroke="#555" stroke-width="0.6" opacity="1"/>
<line x1="1340.0" y1="1144.0" x2="1332.0" y2="1131.6" stroke="#555" stroke-width="0.6" opacity="1"/>
<line x1="1332.0" y1="1144.0" x2="1324.0" y2="1128.3" stroke="#555" stroke-width="0.6" opacity="1"/>
<path d="M1281.6 1081 L1281.6 1100 M1286.4 1081 L1286.4 1100 M1276 1100 Q1278 1116 1292 1118 Q1296 1108 1298 1104" stroke="#666" stroke-width="0.8" fill="none"/>
<path d="M1294 1110 Q1300 1124 1308 1125" stroke="#888" stroke-width="0.7" fill="none"/>
<path d="M1278 1148 L1278 1163 M1266 1150 Q1270 1168 1284 1168" stroke="#666" stroke-width="0.8" fill="none"/>
<path d="M1360 1146 L1360 1161 M1350 1150 Q1352 1168 1364 1168 Q1368 1160 1366 1150" stroke="#666" stroke-width="0.8" fill="none"/>
<path d="M1283 1148 L1290 1156 M1362 1146 L1367 1154" stroke="#333" stroke-width="1.6" fill="none"/>
</g>

<!-- ARROWS -->
<g fill="#fe6526">
  <!-- battery <-> stopcontact -->
  <polygon points="512,360 536,346.3 536,354 667,354 667,346.3 690.4,360 667,373.7 667,365.7 536,365.7 536,373.7"/>
  <!-- stopcontact -> apparaten -->
  <polygon points="1024,355.8 1102,355.8 1102,348.2 1125.4,361.9 1102,375.8 1102,368 1024,368"/>
  <!-- vertical 1 -->
  <polygon points="863.9,406.2 877.8,429.8 870,429.8 870,548.1 877.8,548.1 863.9,571.3 850.1,548.1 858.3,548.1 858.3,429.8 850.1,429.8"/>
  <!-- vertical 2 -->
  <polygon points="868,936.5 881.8,959.7 874,959.7 874,1021.9 881.8,1021.9 868,1045.2 854.2,1021.9 862.1,1021.9 862.1,959.7 854.2,959.7"/>
  <!-- L arrow -->
  <polygon points="294,936 306,936 306,1326 340.2,1326 340.2,1318 363.5,1331.9 340.2,1345.7 340.2,1338 294,1338"/>
  <!-- micro -> groep -->
  <polygon points="626,1326 682.2,1326 682.2,1318 705.3,1331.9 682.2,1345.8 682.2,1338 626,1338"/>
  <!-- net -> groep -->
  <polygon points="1022.5,1332 1045.8,1318.2 1045.8,1326.2 1144,1326.2 1144,1337.8 1045.8,1337.8 1045.8,1345.8"/>
</g>
<!-- slash -->
<polygon points="898.1,648.1 902.3,648.1 892,692.9 886.9,692.9" fill="#232b1e"/>
</svg>

<div class="t" id="l1" style="left:735.3px;top:336px;transform:scaleX(1.147);">Stopcontact</div>
<div class="t" id="l2" style="left:1194.1px;top:336px;transform:scaleX(1.146);">Apparaten</div>
<div class="t" id="l3" style="left:157.0px;top:866px;transform:scaleX(1.112);">Zonnepanelen</div>
<div class="t" id="l4" style="left:626.2px;top:814px;transform:scaleX(1.024);">P1 meter</div>
<div class="t" id="l5" style="left:906.4px;top:814px;transform:scaleX(1.124);">Slimme meter</div>
<div class="t" id="l6" style="left:445.7px;top:1308px;transform:scaleX(1.185);">Micro-</div>
<div class="t" id="l7" style="left:397.3px;top:1360px;transform:scaleX(1.146);">omvormers</div>
<div class="t" id="l8" style="left:729.1px;top:1308px;transform:scaleX(1.111);">Groepenkast</div>
<div class="t" id="l9" style="left:1157.5px;top:1308px;transform:scaleX(1.120);">Elektriciteitsnet</div>
<div class="t" id="l10" style="left:1266.3px;top:1360px;transform:scaleX(1.110);">/ Net</div>
</body>
</html>
